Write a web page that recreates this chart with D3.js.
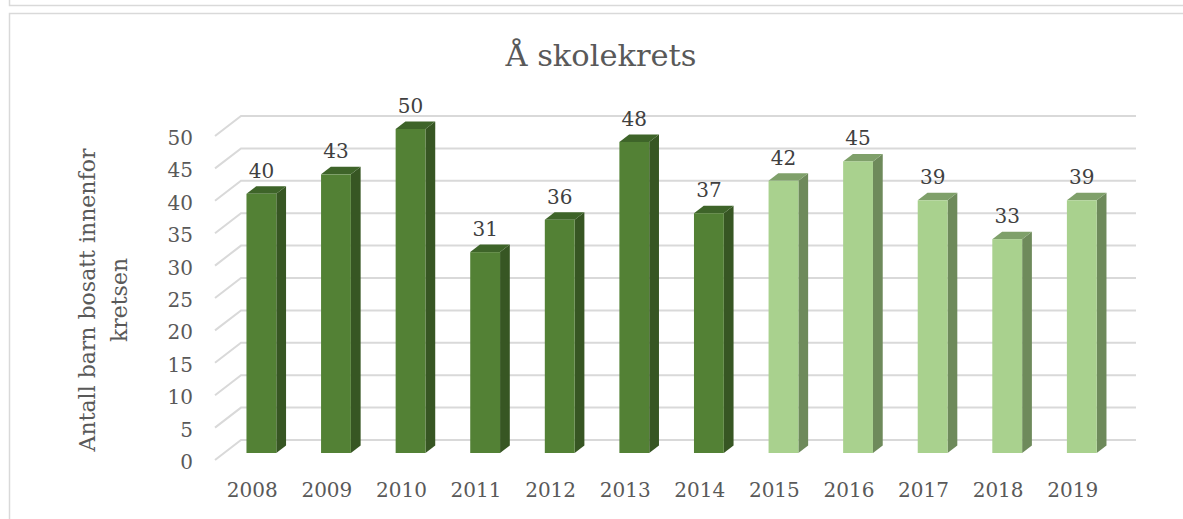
<!DOCTYPE html>
<html>
<head>
<meta charset="utf-8">
<script src="https://cdnjs.cloudflare.com/ajax/libs/d3/7.8.5/d3.min.js"></script>
<style>
  body { margin: 0; background: #fff; }
  svg { display: block; font-family: "DejaVu Serif", serif; }
</style>
</head>
<body>
<svg id="chart" width="1183" height="519"></svg>
<script>
// Data
var years = ['2008', '2009', '2010', '2011', '2012', '2013', '2014', '2015', '2016', '2017', '2018', '2019'];
var counts = [40, 43, 50, 31, 36, 48, 37, 42, 45, 39, 33, 39];
var yTicks = [0, 5, 10, 15, 20, 25, 30, 35, 40, 45, 50];
var title = 'Å skolekrets';
var yTitle = ['Antall barn bosatt innenfor', 'kretsen'];

// first seven years dark, rest light
var colors = {
    dark: { front: '#538135', top: '#3e6429', side: '#375623' },
    light: { front: '#a9d18e', top: '#7fa06a', side: '#6e8a5b' }
};

var svg = d3.select('#chart');

// Borders of the surrounding boxes
svg.append('path')
    .attr('d', 'M9.5,0V5.5H1183')
    .attr('fill', 'none')
    .attr('stroke', '#d9d9d9')
    .attr('stroke-width', 1.5);
svg.append('path')
    .attr('d', 'M1183,13.5H9.5V519')
    .attr('fill', 'none')
    .attr('stroke', '#d9d9d9')
    .attr('stroke-width', 1.5);

// Scales (front plane of the 3D box)
var x = d3.scaleBand()
    .domain(years)
    .range([215, 1110])
    .paddingInner(0.6)
    .paddingOuter(0.3);
var y = d3.scaleLinear()
    .domain([0, 50])
    .range([460, 136]);

// depth of the box, and where the bars sit inside it
var depth = { dx: 26, dy: -20 };
var barFront = 0.35, barBack = 0.725;

// Gridlines: back wall + left side wall
var grid = svg.append('g').attr('class', 'grid')
    .attr('stroke', '#d9d9d9')
    .attr('stroke-width', 2)
    .attr('fill', 'none');
grid.selectAll('path')
    .data(yTicks)
    .enter().append('path')
        .attr('d', function(d) {
            var x0 = x.range()[0], x1 = x.range()[1], yy = y(d);
            return 'M' + x0 + ',' + yy +
                'L' + (x0 + depth.dx) + ',' + (yy + depth.dy) +
                'L' + (x1 + depth.dx) + ',' + (yy + depth.dy);
        });

// Bars
var data = years.map(function(yr, i) {
    return { year: yr, value: counts[i], c: i < 7 ? colors.dark : colors.light };
});

var bar = svg.selectAll('.bar')
    .data(data)
    .enter().append('g')
        .attr('class', 'bar');

function pt(px, py) { return px + ',' + py; }

bar.each(function(d) {
    var g = d3.select(this);
    var fx = x(d.year) + depth.dx * barFront,
        w = x.bandwidth(),
        bx = depth.dx * (barBack - barFront),
        by = depth.dy * (barBack - barFront),
        y0 = y(0) + depth.dy * barFront,
        y1 = y(d.value) + depth.dy * barFront;

    // side
    g.append('polygon')
        .attr('points', [pt(fx + w, y1), pt(fx + w + bx, y1 + by), pt(fx + w + bx, y0 + by), pt(fx + w, y0)].join(' '))
        .attr('fill', d.c.side);
    // top
    g.append('polygon')
        .attr('points', [pt(fx, y1), pt(fx + bx, y1 + by), pt(fx + w + bx, y1 + by), pt(fx + w, y1)].join(' '))
        .attr('fill', d.c.top);
    // front
    g.append('rect')
        .attr('x', fx)
        .attr('y', y1)
        .attr('width', w)
        .attr('height', y0 - y1)
        .attr('fill', d.c.front);
});

// Data labels
svg.selectAll('.label')
    .data(data)
    .enter().append('text')
        .attr('class', 'label')
        .attr('x', function(d) { return x(d.year) + x.bandwidth() / 2 + depth.dx * barFront; })
        .attr('y', function(d) { return y(d.value) + depth.dy * barFront - 16; })
        .attr('text-anchor', 'middle')
        .attr('font-size', 20)
        .attr('fill', '#404040')
        .text(function(d) { return d.value; });

// Y tick labels
svg.selectAll('.ytick')
    .data(yTicks)
    .enter().append('text')
        .attr('class', 'ytick')
        .attr('x', 193)
        .attr('y', function(d) { return y(d) + 9; })
        .attr('text-anchor', 'end')
        .attr('font-size', 20)
        .attr('fill', '#595959')
        .text(function(d) { return d; });

// X tick labels
svg.selectAll('.xtick')
    .data(years)
    .enter().append('text')
        .attr('class', 'xtick')
        .attr('x', function(d) { return x(d) + x.bandwidth() / 2; })
        .attr('y', 497)
        .attr('text-anchor', 'middle')
        .attr('font-size', 20)
        .attr('fill', '#595959')
        .text(function(d) { return d; });

// Title
svg.append('text')
    .attr('x', 601)
    .attr('y', 66)
    .attr('text-anchor', 'middle')
    .attr('font-size', 30.5)
    .attr('fill', '#595959')
    .text(title);

// Y axis title (two lines, rotated)
svg.append('text')
    .attr('transform', 'translate(104,300) rotate(-90)')
    .attr('text-anchor', 'middle')
    .attr('font-size', 22)
    .attr('fill', '#595959')
    .selectAll('tspan')
    .data(yTitle)
    .enter().append('tspan')
        .attr('x', 0)
        .attr('y', function(d, i) { return (i - 0.5) * 32 + 7; })
        .text(function(d) { return d; });
</script>
</body>
</html>
